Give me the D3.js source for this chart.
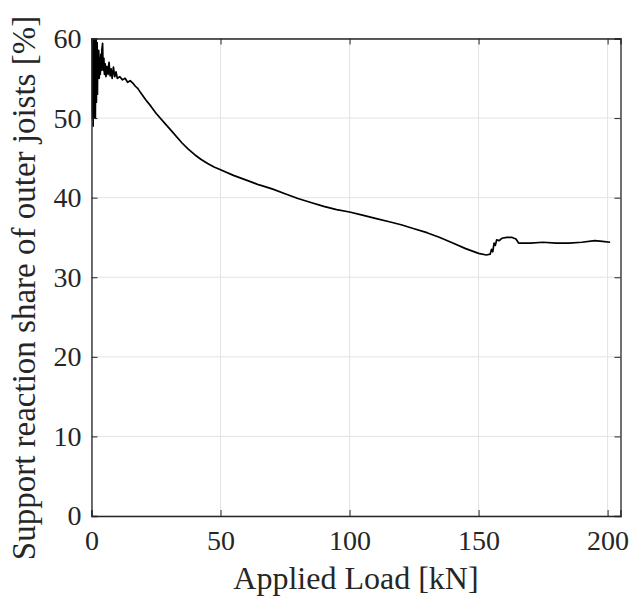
<!DOCTYPE html>
<html><head><meta charset="utf-8">
<script src="https://cdn.jsdelivr.net/npm/d3@7"></script>
<style>body{margin:0;background:#fff;} svg{display:block;}</style>
</head><body>
<script>
const loads = [
  0,0.05,0.1,0.15,0.2,0.25,0.3,0.35,0.4,0.45,0.5,0.55,0.6,0.65,0.7,0.75,0.8,0.85,0.9,0.95,1.0,1.05,1.1,1.15,1.2,
  1.3,1.4,1.5,1.6,1.7,1.8,1.9,2.0,2.1,2.2,2.3,2.4,
  2.6,2.8,3.0,3.2,3.4,3.6,3.8,4.0,
  4.3,4.5,4.8,5.0,5.3,5.6,
  6.0,6.4,6.8,7.2,7.6,
  8,8.5,9,9.5,10,
  11,12,13,14,15,16,17,18,19,
  21,23,25,28,31,
  35,37.5,40,42.5,45,47.5,50,
  55,60,65,70,75,80,85,90,95,100,105,110,115,120,125,130,135,140,145,150,
  153,154.5,155,155.5,156,156.5,157,158,159,161,163,164.5,165.5,
  170,175,180,185,190,195,
  198,201];
const shares = [
  60,51,61,54,62,50,60,53,63,51,61,55,60,49,62,53,58,51,61,54,60,52,59,50,61,
  53,59,50,57,54,60,52,58,55,59.5,53,58,
  55,58.5,55,57.5,55.5,58,56,58.5,
  59.4,56,57.5,55.5,56.8,55.2,
  56.5,55.5,57,55.3,56.2,
  55,56.4,55.2,55.8,55,
  55.2,54.8,55,54.5,54.7,54.4,54.0,53.7,53.2,
  52.3,51.5,50.6,49.5,48.4,
  46.9,46.1,45.4,44.8,44.3,43.85,43.5,
  42.8,42.2,41.6,41.1,40.5,39.9,39.4,38.9,38.5,38.2,37.8,37.4,37.0,36.6,36.1,35.6,35.0,34.3,33.6,33.0,
  32.8,32.9,33.5,33.2,34.3,34.0,34.7,34.6,34.9,35.0,35.0,34.8,34.3,
  34.3,34.4,34.3,34.3,34.4,34.6,
  34.5,34.4];
const xTicks = [0,50,100,150,200];
const yTicks = [0,10,20,30,40,50,60];
const xLabel = "Applied Load [kN]";
const yLabel = "Support reaction share of outer joists [%]";

const W = 629, H = 599;
const m = {left:91.5, right:620.5, top:38.5, bottom:516};
const svg = d3.select("body").append("svg").attr("width",W).attr("height",H);
const x = d3.scaleLinear().domain([0,205]).range([m.left,m.right]);
const y = d3.scaleLinear().domain([0,60]).range([m.bottom,m.top]);
const font = "'Liberation Serif','Times New Roman',serif";

// grid
svg.append("g").selectAll("line").data(xTicks).join("line")
  .attr("x1",d=>x(d)).attr("x2",d=>x(d)).attr("y1",m.top).attr("y2",m.bottom)
  .attr("stroke","#e3e3e3").attr("stroke-width",1);
svg.append("g").selectAll("line").data(yTicks).join("line")
  .attr("y1",d=>y(d)).attr("y2",d=>y(d)).attr("x1",m.left).attr("x2",m.right)
  .attr("stroke","#e3e3e3").attr("stroke-width",1);

// data
svg.append("clipPath").attr("id","clip").append("rect")
  .attr("x",m.left).attr("y",m.top).attr("width",m.right-m.left).attr("height",m.bottom-m.top);
const n = Math.min(loads.length, shares.length);
const pts = d3.range(n).map(i=>[loads[i],shares[i]]);
svg.append("path").datum(pts).attr("clip-path","url(#clip)")
  .attr("d",d3.line().x(d=>x(d[0])).y(d=>y(d[1])))
  .attr("fill","none").attr("stroke","#000").attr("stroke-width",1.7).attr("stroke-linejoin","round");

// axes
const ax = d3.axisBottom(x).tickValues(xTicks).tickSize(-6).tickPadding(14).tickFormat(d3.format("d"));
const ay = d3.axisLeft(y).tickValues(yTicks).tickSize(-6).tickPadding(10).tickFormat(d3.format("d"));
const gx = svg.append("g").attr("transform",`translate(0,${m.bottom})`).call(ax);
const gy = svg.append("g").attr("transform",`translate(${m.left},0)`).call(ay);
const gxt = svg.append("g").attr("transform",`translate(0,${m.top})`).call(d3.axisTop(x).tickValues(xTicks).tickSize(-6).tickFormat(""));
const gyr = svg.append("g").attr("transform",`translate(${m.right},0)`).call(d3.axisRight(y).tickValues(yTicks).tickSize(-6).tickFormat(""));
[gx,gy,gxt,gyr].forEach(g=>{
  g.select(".domain").attr("stroke","#262626").attr("stroke-width",1.3);
  g.selectAll(".tick line").attr("stroke","#262626");
  g.selectAll("text").attr("font-family",font).attr("font-size",28).attr("fill","#262626");
});

svg.append("text").attr("x",(m.left+m.right)/2).attr("y",589).attr("text-anchor","middle")
  .attr("font-family",font).attr("font-size",32).attr("fill","#262626").text(xLabel);
svg.append("text").attr("transform",`translate(35,288) rotate(-90)`).attr("text-anchor","middle")
  .attr("font-family",font).attr("font-size",33).attr("fill","#262626").text(yLabel);
</script>
</body></html>
